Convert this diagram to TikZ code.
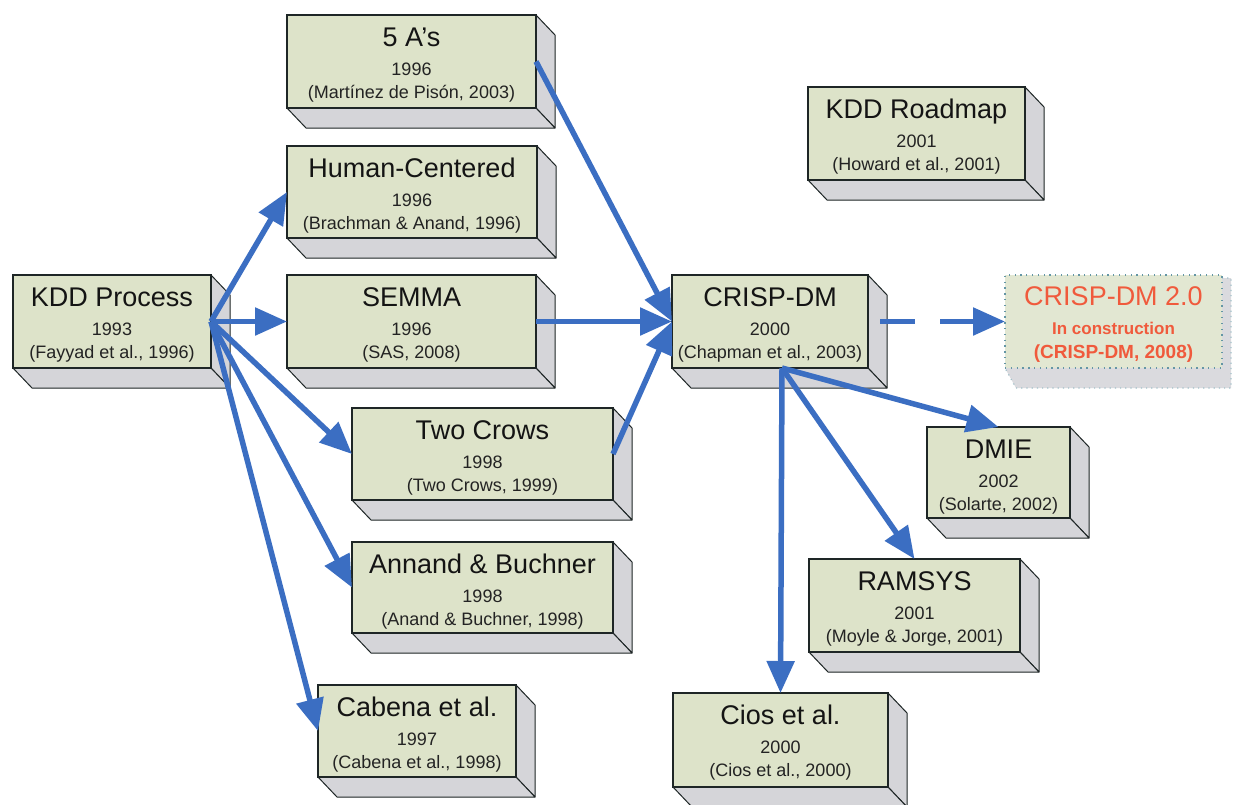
\documentclass[tikz,border=0pt]{standalone}
\usepackage{fontspec}
\setmainfont{Liberation Sans}
\usetikzlibrary{calc,arrows.meta}
\definecolor{frontfill}{RGB}{221,227,201}
\definecolor{sidefill}{RGB}{213,213,217}
\definecolor{boxline}{RGB}{30,38,38}
\definecolor{flowblue}{RGB}{59,110,194}
\definecolor{titlecol}{RGB}{20,20,20}
\definecolor{subcol}{RGB}{35,35,35}
\definecolor{newred}{RGB}{240,90,60}
\definecolor{newfill}{RGB}{226,231,210}
\definecolor{dotline}{RGB}{100,150,165}
\definecolor{shadowgrey}{RGB}{218,218,222}
\tikzset{
  frontbox/.style={rectangle, draw=boxline, line width=1.8pt, fill=frontfill, inner sep=0pt, outer sep=0pt},
  sideface/.style={fill=sidefill, draw=boxline, line width=1pt, line join=round},
  titletext/.style={anchor=base, inner sep=0pt, font=\fontsize{27}{30}\selectfont, text=titlecol},
  subtext/.style={anchor=base, inner sep=0pt, font=\fontsize{18}{21}\selectfont, text=subcol},
  flow/.style={draw=flowblue, line width=5.5pt, -{Triangle[length=32pt,width=27pt]}},
}
\newcommand{\threedbox}[8]{%
  \node[frontbox, minimum width=#4pt, minimum height=#5pt] (#1) at (#2,#3) {};
  \path[sideface] (#1.north east) -- ++(19,20) -- ++(0,#5) -- ++(-19,-20) -- cycle;
  \path[sideface] (#1.south west) -- (#1.south east) -- ++(19,20) -- ++(-#4,0) -- cycle;
  \draw[draw=boxline, line width=1.8pt] (#1.south west) rectangle (#1.north east);
  \node[titletext] (#1-t) at ($(#1.north)+(0,31)$) {#6};
  \node[subtext] (#1-y) at ($(#1.north)+(0,60)$) {#7};
  \node[subtext] (#1-r) at ($(#1.north)+(0,83)$) {#8};
}
\begin{document}
\begin{tikzpicture}[x=1pt,y=-1pt]
\fill[white] (0,0) rectangle (1236,804);
\useasboundingbox (0,0) rectangle (1236,804);

\threedbox{kdd}{112}{321.5}{198}{93}{KDD Process}{1993}{(Fayyad et al., 1996)}
\threedbox{fivea}{411.5}{61.5}{249}{93}{5 A’s}{1996}{(Martínez de Pisón, 2003)}
\threedbox{human}{412}{192}{250}{92}{Human-Centered}{1996}{(Brachman \& Anand, 1996)}
\threedbox{semma}{411.5}{321.5}{249}{93}{SEMMA}{1996}{(SAS, 2008)}
\threedbox{crows}{482.5}{454}{261}{92}{Two Crows}{1998}{(Two Crows, 1999)}
\threedbox{annand}{482.5}{587.5}{261}{91}{Annand \& Buchner}{1998}{(Anand \& Buchner, 1998)}
\threedbox{cabena}{417}{731}{198}{92}{Cabena et al.}{1997}{(Cabena et al., 1998)}
\threedbox{crisp}{770}{321.5}{196}{93}{CRISP-DM}{2000}{(Chapman et al., 2003)}
\threedbox{roadmap}{916.5}{133.5}{217}{93}{KDD Roadmap}{2001}{(Howard et al., 2001)}
\threedbox{dmie}{998.5}{472.5}{143}{91}{DMIE}{2002}{(Solarte, 2002)}
\threedbox{ramsys}{914.5}{605.5}{211}{93}{RAMSYS}{2001}{(Moyle \& Jorge, 2001)}
\threedbox{cios}{780.5}{740}{215}{94}{Cios et al.}{2000}{(Cios et al., 2000)}

% CRISP-DM 2.0 (in construction)
\path[fill=shadowgrey, draw=dotline!60, line width=1.2pt, dash pattern=on 1.2pt off 4pt]
  (1222,278) -- (1231,278) -- (1231,388) -- (1016,388) -- (1005,368) -- cycle;
\node[rectangle, fill=newfill, draw=dotline, line width=1.3pt, dash pattern=on 1.3pt off 4.5pt,
      minimum width=217pt, minimum height=93pt, inner sep=0pt, outer sep=0pt] (crisp2) at (1113.5,321.5) {};
\node[titletext, text=newred] (crisp2-t) at ($(crisp2.north)+(0,30)$) {CRISP-DM 2.0};
\node[anchor=base, inner sep=0pt, font=\fontsize{17}{20}\selectfont\bfseries, text=newred] (crisp2-y) at ($(crisp2.north)+(0,59)$) {In construction};
\node[anchor=base, inner sep=0pt, font=\fontsize{19}{22}\selectfont\bfseries, text=newred] (crisp2-r) at ($(crisp2.north)+(0,83)$) {(CRISP-DM, 2008)};

% connectors
\draw[flow] (kdd.east) -- (human.west);
\draw[flow] (kdd.east) -- (semma.west);
\draw[flow] (kdd.east) -- (crows.west);
\draw[flow] (kdd.east) -- (annand.west);
\draw[flow] (kdd.east) -- (cabena.west);
\draw[flow] (fivea.east) -- (crisp.west);
\draw[flow] (semma.east) -- (crisp.west);
\draw[flow] (crows.east) -- (crisp.west);
\draw[flow] ([xshift=12pt]crisp.south) -- (dmie.north);
\draw[flow] ([xshift=12pt]crisp.south) -- (ramsys.north);
\draw[flow] ([xshift=12pt]crisp.south) -- (cios.north);
\draw[flow, dash pattern=on 35pt off 25pt] ([xshift=12pt]crisp.east) -- (crisp2.west);
\end{tikzpicture}
\end{document}
